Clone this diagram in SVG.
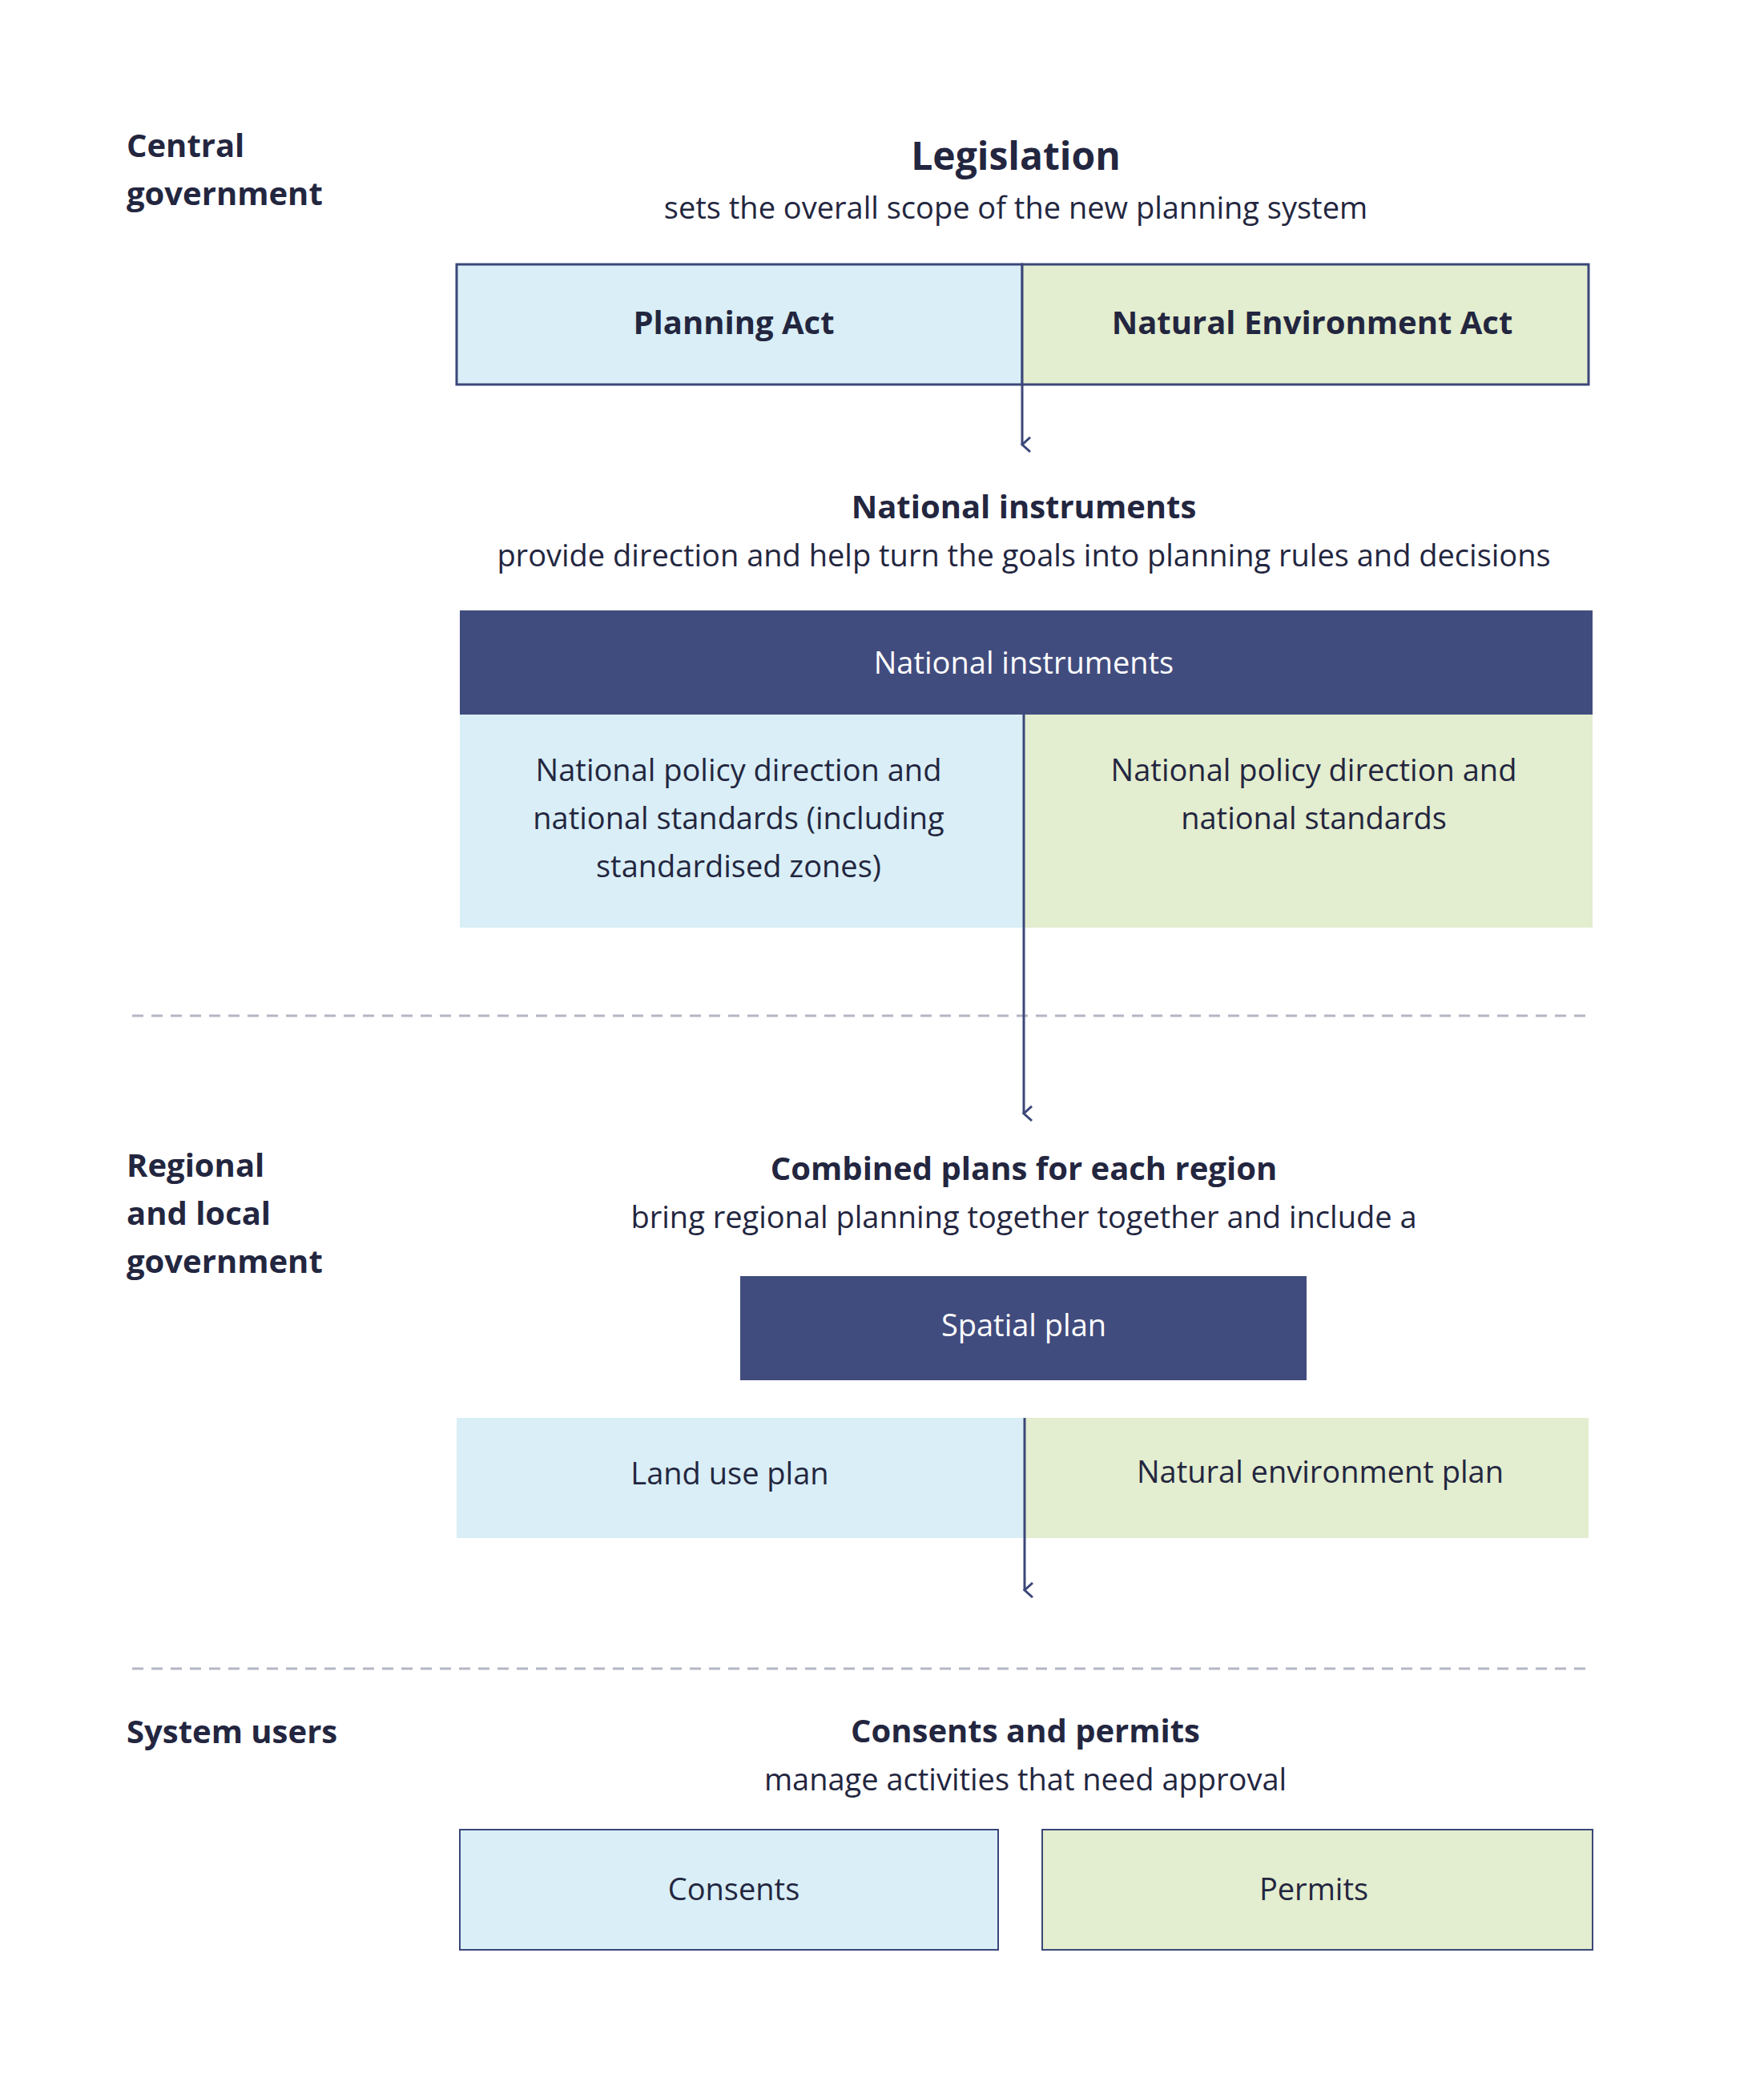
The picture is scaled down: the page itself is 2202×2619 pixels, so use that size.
<svg xmlns="http://www.w3.org/2000/svg" width="2202" height="2619" viewBox="0 0 2202 2619">
<style>
text{font-family:"Open Sans","Liberation Sans",sans-serif;fill:#23263f;text-anchor:middle}
.b{font-weight:bold}
.l{text-anchor:start;font-weight:bold;font-size:40px}
.t{font-size:40px}
.s{font-size:38px}
.w{fill:#ffffff}
.blue{fill:#d9eef6}
.green{fill:#e3edcf}
.dark{fill:#414c7e}
.bd{stroke:#3b4779;stroke-width:3}
.dash{stroke:#b4b6c4;stroke-width:3;stroke-dasharray:14 10}
</style>
<defs><marker id="ah" markerWidth="20" markerHeight="20" refX="10" refY="12" orient="auto" markerUnits="userSpaceOnUse"><path d="M1,2 L10,12 L19,2" fill="none" stroke="#3b4779" stroke-width="3"/></marker></defs>
<rect width="2202" height="2619" fill="#fff"/>
<g id="labels">
<text class="l" x="158" y="196">Central</text><text class="l" x="158" y="256">government</text>
<text class="l" x="158" y="1469">Regional</text><text class="l" x="158" y="1529">and local</text><text class="l" x="158" y="1589">government</text>
<text class="l" x="158" y="2176">System users</text>
</g>
<g id="legislation">
<text class="b" x="1268" y="212" font-size="48">Legislation</text>
<text class="s" x="1268" y="273">sets the overall scope of the new planning system</text>
</g>
<g id="planning-act"><rect class="blue bd" x="570" y="330" width="706" height="150"/><text class="b t" x="916" y="417">Planning Act</text></g>
<g id="natural-env-act"><rect class="green bd" x="1276" y="330" width="707" height="150"/><text class="b t" x="1638" y="417">Natural Environment Act</text></g>
<g id="national-title">
<text class="b t" x="1278" y="647">National instruments</text>
<text class="s" x="1278" y="707">provide direction and help turn the goals into planning rules and decisions</text>
</g>
<g id="national-instruments">
<rect class="dark" x="574" y="762" width="1414" height="130"/><text class="w s" x="1278" y="841">National instruments</text>
<rect class="blue" x="574" y="892" width="704" height="266"/>
<rect class="green" x="1278" y="892" width="710" height="266"/>
<text class="s" x="922" y="975">National policy direction and</text>
<text class="s" x="922" y="1035">national standards (including</text>
<text class="s" x="922" y="1095">standardised zones)</text>
<text class="s" x="1640" y="975">National policy direction and</text>
<text class="s" x="1640" y="1035">national standards</text>
</g>
<g id="combined-title">
<text class="b t" x="1278" y="1473">Combined plans for each region</text>
<text class="s" x="1278" y="1533">bring regional planning together together and include a</text>
</g>
<g id="spatial-plan"><rect class="dark" x="924" y="1593" width="707" height="130"/><text class="w s" x="1278" y="1668">Spatial plan</text></g>
<g id="land-use"><rect class="blue" x="570" y="1770" width="709" height="150"/><text class="s" x="911" y="1853">Land use plan</text></g>
<g id="natural-env-plan"><rect class="green" x="1279" y="1770" width="704" height="150"/><text class="s" x="1648" y="1851">Natural environment plan</text></g>
<g id="consents-title">
<text class="b t" x="1280" y="2175">Consents and permits</text>
<text class="s" x="1280" y="2235">manage activities that need approval</text>
</g>
<g id="consents"><rect class="blue" x="574" y="2284" width="672" height="150" stroke="#3b4779" stroke-width="2"/><text class="s" x="916" y="2372">Consents</text></g>
<g id="permits"><rect class="green" x="1301" y="2284" width="687" height="150" stroke="#3b4779" stroke-width="2"/><text class="s" x="1640" y="2372">Permits</text></g>
<g id="connectors" fill="none">
<line class="dash" x1="165" y1="1268" x2="1983" y2="1268"/>
<line class="dash" x1="165" y1="2083" x2="1983" y2="2083"/>
<line class="bd" x1="1276" y1="480" x2="1276" y2="555" marker-end="url(#ah)"/>
<line class="bd" x1="1278" y1="892" x2="1278" y2="1390" marker-end="url(#ah)"/>
<line class="bd" x1="1279" y1="1770" x2="1279" y2="1985" marker-end="url(#ah)"/>
</g>
</svg>
